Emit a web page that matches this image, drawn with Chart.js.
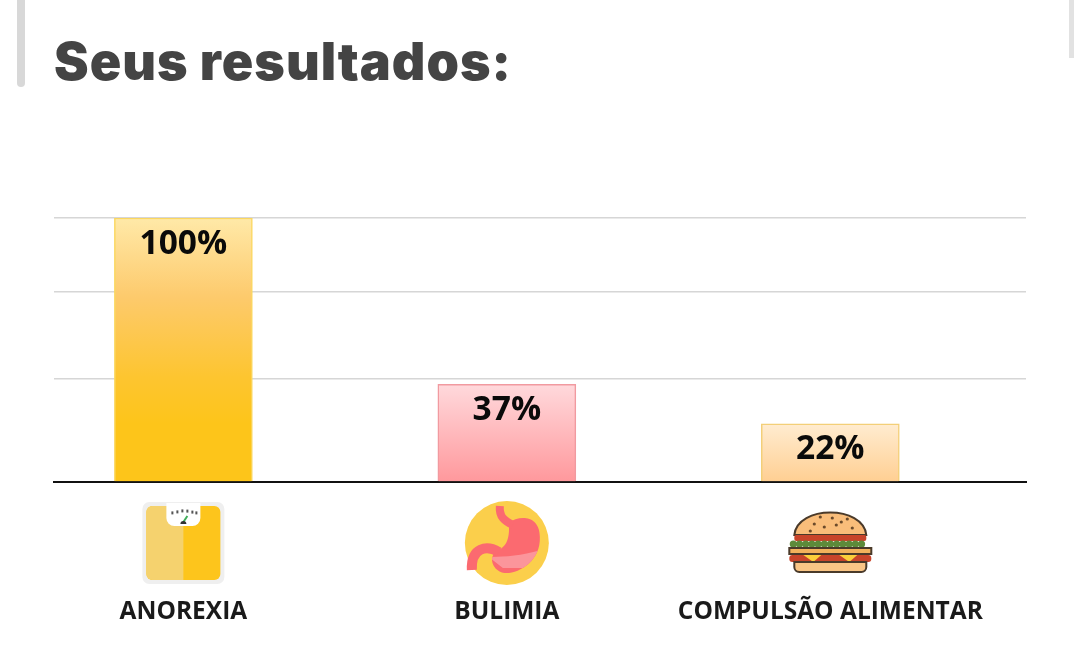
<!DOCTYPE html>
<html>
<head>
<meta charset="utf-8">
<style>
    html, body { margin: 0; padding: 0; background: #fff; overflow: hidden; }
    #wrap { position: relative; width: 1074px; height: 671px; }
    #heading { position: absolute; left: 54px; top: 30px; margin: 0; color: #444; font: 900 52px Inter, sans-serif; letter-spacing: 1px; }
    .edge { position: absolute; top: 0; background: #d8d8d8; }
    #edgeLeft { left: 17px; width: 8px; height: 87px; border-radius: 0 0 4px 4px; }
    #edgeRight { left: 1069px; width: 5px; height: 58px; background: #e2e2e2; }
    canvas { position: absolute; left: 0; top: 0; }
</style>
<script src="https://cdn.jsdelivr.net/npm/chart.js@4"></script>
</head>
<body>
<div id="wrap">
    <div class="edge" id="edgeLeft"></div>
    <div class="edge" id="edgeRight"></div>
    <h1 id="heading">Seus resultados:</h1>
    <canvas id="resultChart" width="1074" height="671"></canvas>
</div>
<script>
// values
const categories = ["ANOREXIA", "BULIMIA", "COMPULSÃO ALIMENTAR"];
const percents = [100, 37, 22];
const gridValues = [0, 39, 72, 100];

const gradientStops = [
    [[0, "#ffe9a8"], [0.3, "#fdca6c"], [0.6, "#fdc530"], [0.78, "#fdc51a"], [1, "#fdc51a"]],
    [[0, "#ffd9dc"], [1, "#ff989c"]],
    [[0, "#ffecd0"], [1, "#ffcf92"]],
];
const barBorders = ["#fbd760", "#f19aa0", "#f3cf78"];

function barGradient(context) {
    const chart = context.chart;
    if (!chart.chartArea) return "#fff";
    const y = chart.scales.y;
    const i = context.dataIndex;
    const g = chart.ctx.createLinearGradient(0, y.getPixelForValue(percents[i]), 0, y.getPixelForValue(0));
    gradientStops[i].forEach(s => g.addColorStop(s[0], s[1]));
    return g;
}

// percent labels inside the bars
const barLabels = {
    id: "barLabels",
    afterDatasetsDraw(chart) {
        const ctx = chart.ctx;
        ctx.save();
        ctx.font = "700 33.5px 'Open Sans'";
        ctx.fillStyle = "#0a0a0a";
        ctx.textAlign = "center";
        ctx.textBaseline = "middle";
        chart.getDatasetMeta(0).data.forEach((bar, i) => {
            ctx.fillText(percents[i] + "%", bar.x, bar.y + 26);
        });
        ctx.restore();
    },
};

function roundBox(ctx, x, y, w, h, r, color) {
    ctx.fillStyle = color;
    ctx.beginPath();
    ctx.roundRect(x, y, w, h, r);
    ctx.fill();
}

function drawScale(ctx, cx, cy) {
    roundBox(ctx, cx - 41, cy - 41, 82, 82, 7, "#efefef");
    roundBox(ctx, cx - 37, cy - 37, 74, 74, 6, "#fdc51c");
    ctx.fillStyle = "#f5d26e";
    ctx.beginPath();
    ctx.roundRect(cx - 37, cy - 37, 37, 74, [6, 0, 0, 6]);
    ctx.fill();
    ctx.fillStyle = "#fff";
    ctx.beginPath();
    ctx.roundRect(cx - 17, cy - 40, 34, 23, [0, 0, 8, 8]);
    ctx.fill();
    ctx.fillStyle = "#555";
    [-12, -7, -2, 3, 8, 12].forEach(dx => ctx.fillRect(cx + dx, cy - 34 + Math.abs(dx) * 0.2, 2, 3));
    ctx.strokeStyle = "#3fae5a";
    ctx.lineWidth = 2;
    ctx.beginPath();
    ctx.moveTo(cx, cy - 21);
    ctx.lineTo(cx + 4, cy - 27);
    ctx.stroke();
    ctx.fillStyle = "#333";
    ctx.beginPath();
    ctx.arc(cx, cy - 19, 3, Math.PI, 0);
    ctx.fill();
}

function drawStomach(ctx, cx, cy) {
    ctx.fillStyle = "#fbcf4b";
    ctx.beginPath();
    ctx.arc(cx, cy, 42, 0, Math.PI * 2);
    ctx.fill();
    const body = () => {
        ctx.beginPath();
        ctx.moveTo(cx + 2, cy - 20);
        ctx.bezierCurveTo(cx + 12, cy - 28, cx + 33, cy - 28, cx + 33, cy - 6);
        ctx.bezierCurveTo(cx + 34, cy + 18, cx + 12, cy + 31, cx - 2, cy + 30);
        ctx.bezierCurveTo(cx - 12, cy + 29, cx - 18, cy + 18, cx - 13, cy + 11);
        ctx.bezierCurveTo(cx - 8, cy + 5, cx + 4, cy + 6, cx + 2, cy - 20);
        ctx.closePath();
    };
    ctx.fillStyle = "#fb6a70";
    body();
    ctx.fill();
    ctx.save();
    body();
    ctx.clip();
    ctx.fillStyle = "#fb959b";
    ctx.beginPath();
    ctx.moveTo(cx - 18, cy + 14);
    ctx.bezierCurveTo(cx - 4, cy + 14, cx + 14, cy + 13, cx + 34, cy + 7);
    ctx.lineTo(cx + 34, cy + 25);
    ctx.lineTo(cx - 4, cy + 25);
    ctx.closePath();
    ctx.fill();
    ctx.restore();
    ctx.strokeStyle = "#fb6a70";
    ctx.lineWidth = 8;
    ctx.beginPath();
    ctx.moveTo(cx - 7, cy - 37);
    ctx.bezierCurveTo(cx - 8, cy - 26, cx - 2, cy - 22, cx + 6, cy - 18);
    ctx.stroke();
    ctx.lineWidth = 10;
    ctx.beginPath();
    ctx.moveTo(cx - 8, cy + 9);
    ctx.bezierCurveTo(cx - 20, cy + 2, cx - 36, cy + 4, cx - 35, cy + 27);
    ctx.stroke();
}

function drawBurger(ctx, cx, cy) {
    ctx.strokeStyle = "#4a3a2a";
    ctx.lineWidth = 2;
    ctx.fillStyle = "#f9bd7a";
    ctx.beginPath();
    ctx.moveTo(cx - 36, cy - 8);
    ctx.bezierCurveTo(cx - 33, cy - 38, cx + 33, cy - 38, cx + 36, cy - 8);
    ctx.closePath();
    ctx.fill();
    ctx.stroke();
    ctx.fillStyle = "#6b4a2a";
    [[-16, -19], [-10, -26], [-6, -16], [6, -18], [17, -24], [22, -15], [-20, -12], [2, -25], [11, -21]].forEach(p => {
        ctx.beginPath();
        ctx.arc(cx + p[0], cy + p[1], 1.6, 0, Math.PI * 2);
        ctx.fill();
    });
    roundBox(ctx, cx - 36, cy - 8, 72, 6, 2, "#c8442a");
    ctx.fillStyle = "#5d8a3a";
    for (let dx = -37; dx <= 37; dx += 6.2) {
        ctx.beginPath();
        ctx.arc(cx + dx, cy + 1, 3.6, 0, Math.PI * 2);
        ctx.fill();
    }
    roundBox(ctx, cx - 41, cy + 5, 82, 6, 2, "#f2b25c");
    ctx.strokeRect(cx - 41, cy + 5, 82, 6);
    roundBox(ctx, cx - 41, cy + 12, 82, 7, 3, "#c8442a");
    ctx.fillStyle = "#fbcf3a";
    [-19, 17].forEach(dx => {
        ctx.beginPath();
        ctx.moveTo(cx + dx - 8, cy + 12);
        ctx.lineTo(cx + dx + 10, cy + 12);
        ctx.lineTo(cx + dx + 2, cy + 19);
        ctx.closePath();
        ctx.fill();
    });
    ctx.fillStyle = "#f9c585";
    ctx.beginPath();
    ctx.roundRect(cx - 36, cy + 19, 72, 10, [0, 0, 5, 5]);
    ctx.fill();
    ctx.stroke();
}

const iconDrawers = [drawScale, drawStomach, drawBurger];

// icons between the axis line and the category names
const categoryIcons = {
    id: "categoryIcons",
    afterDraw(chart) {
        const x = chart.scales.x;
        iconDrawers.forEach((draw, i) => {
            chart.ctx.save();
            draw(chart.ctx, x.getPixelForValue(i), x.top + 61);
            chart.ctx.restore();
        });
    },
};

new Chart(document.getElementById("resultChart").getContext("2d"), {
    type: "bar",
    data: {
        datasets: [{
            data: categories.map((c, i) => ({ x: i, y: percents[i] })),
            backgroundColor: barGradient,
            borderColor: barBorders,
            borderWidth: 1.5,
            barThickness: 138,
        }],
    },
    options: {
        responsive: false,
        animation: false,
        layout: { padding: { left: 54, right: 48, top: 218, bottom: 0 } },
        plugins: { legend: { display: false }, tooltip: { enabled: false } },
        scales: {
            x: {
                type: "linear",
                offset: false,
                bounds: "data",
                min: -0.4,
                max: 2.605,
                afterBuildTicks: axis => { axis.ticks = categories.map((c, i) => ({ value: i })); },
                afterFit: axis => {
                    axis.height = 189;
                    axis.paddingLeft = 0;
                    axis.paddingRight = 0;
                },
                grid: { display: false, offset: false },
                border: { color: "#111", width: 2 },
                ticks: {
                    autoSkip: false,
                    maxRotation: 0,
                    padding: 107,
                    color: "#1a1a1a",
                    font: { family: "'Open Sans'", size: 24.5, weight: "700" },
                    callback: value => categories[value],
                },
            },
            y: {
                min: 0,
                max: 100,
                afterBuildTicks: axis => { axis.ticks = gridValues.map(v => ({ value: v })); },
                grid: { color: "#d6d6d6", lineWidth: 1.5, drawTicks: false },
                border: { display: false },
                ticks: { display: false },
            },
        },
    },
    plugins: [barLabels, categoryIcons],
});
</script>
</body>
</html>
